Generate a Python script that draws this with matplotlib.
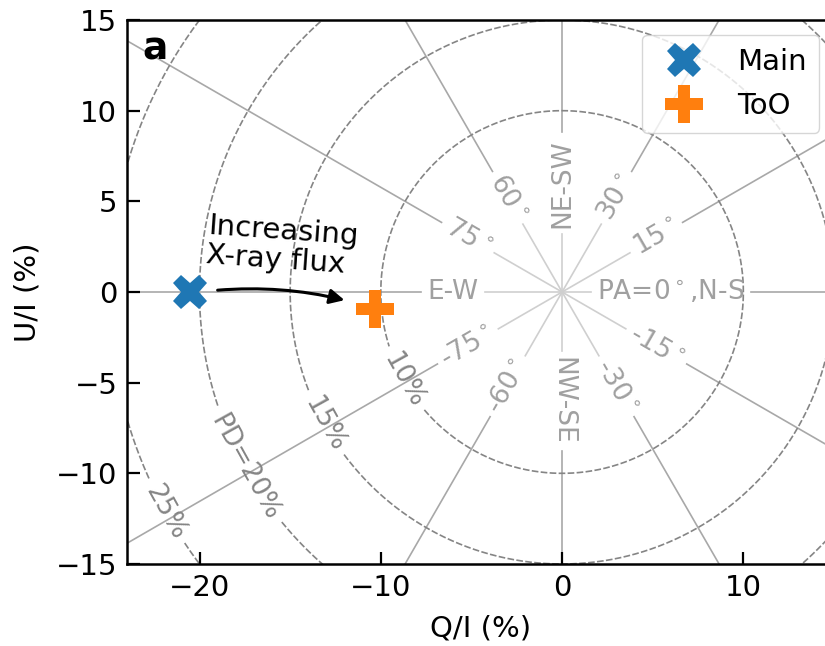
import numpy as np
import matplotlib
matplotlib.use("Agg")
import matplotlib.pyplot as plt

# ---- data ----
main_q = [-20.5]
main_u = [0.0]
too_q = [-10.3]
too_u = [-0.95]

pd_levels = [10, 15, 20, 25]
pd_labels = ["10%", "15%", "PD=20%", "25%"]
pd_label_angle = 209.0  # position angle of circle labels in Q-U plane (deg)

pa_values = [0, 15, 30, 45, 60, 75, 90, -75, -60, -45, -30, -15]
pa_labels = [r"PA=0$^\circ$,N-S", r"15$^\circ$", r"30$^\circ$", "NE-SW", r"60$^\circ$",
             r"75$^\circ$", "E-W", r"-75$^\circ$", r"-60$^\circ$", "NW-SE",
             r"-30$^\circ$", r"-15$^\circ$"]
pa_label_radius = 6.0

xticks = [-20, -10, 0, 10]
yticks = [-15, -10, -5, 0, 5, 10, 15]

# ---- figure ----
W, H = 825, 646
fig = plt.figure(figsize=(W / 100, H / 100), dpi=100)
ax_l, ax_r, ax_t, ax_b = 127, 834, 20, 564
ax = fig.add_axes([ax_l / W, (H - ax_b) / H, (ax_r - ax_l) / W, (ax_b - ax_t) / H])
xlim = (-24, 15)
ylim = (-15, 15)
ax.set_xlim(*xlim)
ax.set_ylim(*ylim)
ppu = (ax_r - ax_l) / (xlim[1] - xlim[0])  # pixels per data unit

renderer = fig.canvas.get_renderer()

def text_len_units(s, size):
    from matplotlib.font_manager import FontProperties
    fp = FontProperties(size=size)
    ismath = "$" in s
    w, h, d = renderer.get_text_width_height_descent(s, fp, ismath=ismath)
    return w / ppu

# radial PA lines
rad_fs = 19
inner_col = "#cfcfcf"
outer_col = "#a8a8a8"
for pa, lab in zip(pa_values, pa_labels):
    ang = np.deg2rad(2 * pa)
    c, s = np.cos(ang), np.sin(ang)
    hl = text_len_units(lab, rad_fs) / 2 + 0.35
    r0 = pa_label_radius - hl
    r1 = pa_label_radius + hl
    ax.plot([0, r0 * c], [0, r0 * s], color=inner_col, lw=1.2, zorder=1)
    ax.plot([r1 * c, 60 * c], [r1 * s, 60 * s], color=outer_col, lw=1.2, zorder=1)
    rot = 2 * pa
    if rot > 90:
        rot -= 180
    elif rot < -90:
        rot += 180
    ax.text(pa_label_radius * c, pa_label_radius * s, lab, color="#a0a0a0",
            fontsize=rad_fs, rotation=rot, rotation_mode="anchor",
            ha="center", va="center", zorder=2)

# PD circles
circ_fs = 19
for r, lab in zip(pd_levels, pd_labels):
    half_gap = (text_len_units(lab, circ_fs) / 2 + 0.4) / r
    th0 = np.deg2rad(pd_label_angle)
    th = np.linspace(th0 + half_gap, th0 + 2 * np.pi - half_gap, 800)
    ax.plot(r * np.cos(th), r * np.sin(th), color="#858585", lw=1.2,
            linestyle=(0, (4, 1.4)), zorder=1)
    ax.text(r * np.cos(th0), r * np.sin(th0), lab, color="#858585",
            fontsize=circ_fs, rotation=pd_label_angle - 270,
            rotation_mode="anchor", ha="center", va="center", zorder=2)

# data points
ax.plot(main_q, main_u, linestyle="none", marker="X", markersize=25,
        color="#1f77b4", markeredgewidth=0, label="Main", zorder=5)
ax.plot(too_q, too_u, linestyle="none", marker="P", markersize=28,
        color="#ff7f0e", markeredgewidth=0, label="ToO", zorder=5)

# arrow and annotation
ax.annotate("", xy=(-12.0, -0.45), xytext=(-19.0, 0.1),
            arrowprops=dict(arrowstyle="-|>", color="black", lw=2.2,
                            mutation_scale=22,
                            connectionstyle="arc3,rad=-0.08",
                            shrinkA=0, shrinkB=0), zorder=6)
ax.text(-15.45, 2.55, "Increasing\nX-ray flux", fontsize=21, rotation=-4,
        rotation_mode="anchor", ha="center", va="center",
        multialignment="left", linespacing=1.05, zorder=6)

ax.text(0.022, 0.945, "a", transform=ax.transAxes, fontsize=27,
        fontweight="bold", ha="left", va="center", zorder=6)

# axes styling
ax.set_xticks(xticks)
ax.set_yticks(yticks)
ax.tick_params(direction="in", length=9, width=1.6, labelsize=21, pad=7,
               top=False, right=False)
for sp in ax.spines.values():
    sp.set_linewidth(1.8)
ax.set_xlabel("Q/I (%)", fontsize=21, labelpad=9)
ax.set_ylabel("U/I (%)", fontsize=21, labelpad=10)

leg = ax.legend(loc="upper right", fontsize=21, handletextpad=0.8,
                borderpad=0.45, labelspacing=0.55)
leg.set_zorder(10)

fig.savefig("out.png", dpi=100)
